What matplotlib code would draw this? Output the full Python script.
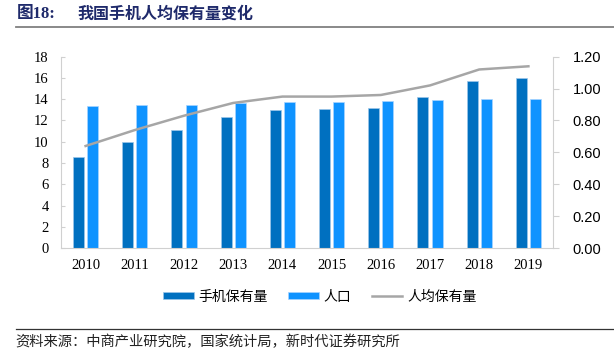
import numpy as np
import matplotlib.pyplot as plt
from matplotlib.lines import Line2D

years = ['2010', '2011', '2012', '2013', '2014', '2015', '2016', '2017', '2018', '2019']
phones = [8.6, 10.0, 11.1, 12.3, 13.0, 13.1, 13.2, 14.2, 15.7, 16.0]      # 手机保有量
people = [13.4, 13.5, 13.5, 13.6, 13.7, 13.7, 13.8, 13.9, 14.0, 14.0]    # 人口
per_cap = [0.64, 0.74, 0.83, 0.91, 0.95, 0.95, 0.96, 1.02, 1.12, 1.14]   # 人均保有量

left_ticks = np.arange(0, 19, 2)
right_ticks = np.arange(0, 1.21, 0.2)

cjk = ['Noto Sans CJK SC', 'DejaVu Sans']
serif = 'Liberation Serif'
sans = 'Liberation Sans'

dark = '#0070C0'
light = '#0F93FF'
gray = '#A6A6A6'
axis_gray = '#D0D0D0'

fig = plt.figure(figsize=(6.14, 3.57), dpi=100)
ax = fig.add_axes([61/614, 0.3053, (553-61)/614, 0.5358])

x = np.arange(len(years))
w = 0.225
ax.bar(x - 0.145, phones, w, color=dark, edgecolor='#9CC6EA', linewidth=0.5, label='手机保有量')
ax.bar(x + 0.145, people, w, color=light, edgecolor='#A8D4FF', linewidth=0.5, label='人口')
ax.set_xlim(-0.5, len(years) - 0.5)
ax.set_ylim(0, 18)
ax.set_yticks(left_ticks)
ax.set_yticklabels([str(v) for v in left_ticks], fontfamily=serif, fontsize=10.5)
ax.set_xticks(x)
ax.set_xticklabels(years, fontfamily=serif, fontsize=10.5)
ax.tick_params(axis='x', length=0, pad=8)
ax.tick_params(axis='y', length=3, color=axis_gray, pad=9, direction='in')
for s in ['top', 'right']:
    ax.spines[s].set_visible(False)
ax.spines['left'].set_color(axis_gray)
ax.spines['bottom'].set_color(axis_gray)

ax2 = ax.twinx()
ax2.plot(x, per_cap, color=gray, linewidth=1.8, label='人均保有量')
ax2.set_ylim(0, 1.2)
ax2.set_yticks(right_ticks)
ax2.set_yticklabels(['%.2f' % v for v in right_ticks], fontfamily=sans, fontsize=10.5)
ax2.tick_params(axis='y', length=4, color=axis_gray, pad=10)
for s in ['top', 'left', 'bottom']:
    ax2.spines[s].set_visible(False)
ax2.spines['right'].set_color(axis_gray)

h1, l1 = ax.get_legend_handles_labels()
h2, l2 = ax2.get_legend_handles_labels()
fig.legend(h1 + h2, l1 + l2, loc='center', bbox_to_anchor=(0.521, 0.169), ncol=3,
           frameon=False, prop={'family': cjk, 'size': 10}, handlelength=2.2,
           handleheight=0.4, handletextpad=0.35, columnspacing=1.45)

# header
fig.text(17/614, 1 - 14/357, '图18:', fontfamily=['Liberation Serif', 'Noto Sans CJK SC'],
         fontweight='bold', fontsize=12, color='#1F2A6B', va='center', ha='left')
fig.text(77/614, 1 - 14/357, '我国手机人均保有量变化', fontfamily=cjk, fontweight='bold',
         fontsize=11.5, color='#1F2A6B', va='center', ha='left')
fig.add_artist(Line2D([16/614, 1], [1 - 26.7/357] * 2, color='#808080', linewidth=1.3))

# footer
fig.add_artist(Line2D([16/614, 1], [1 - 329.3/357] * 2, color='#333333', linewidth=0.9))
fig.text(15/614, 1 - 342/357, '资料来源：中商产业研究院，国家统计局，新时代证券研究所',
         fontfamily=cjk, fontsize=10.3, color='#222222', va='center', ha='left')

fig.savefig('out.png', dpi=100)
